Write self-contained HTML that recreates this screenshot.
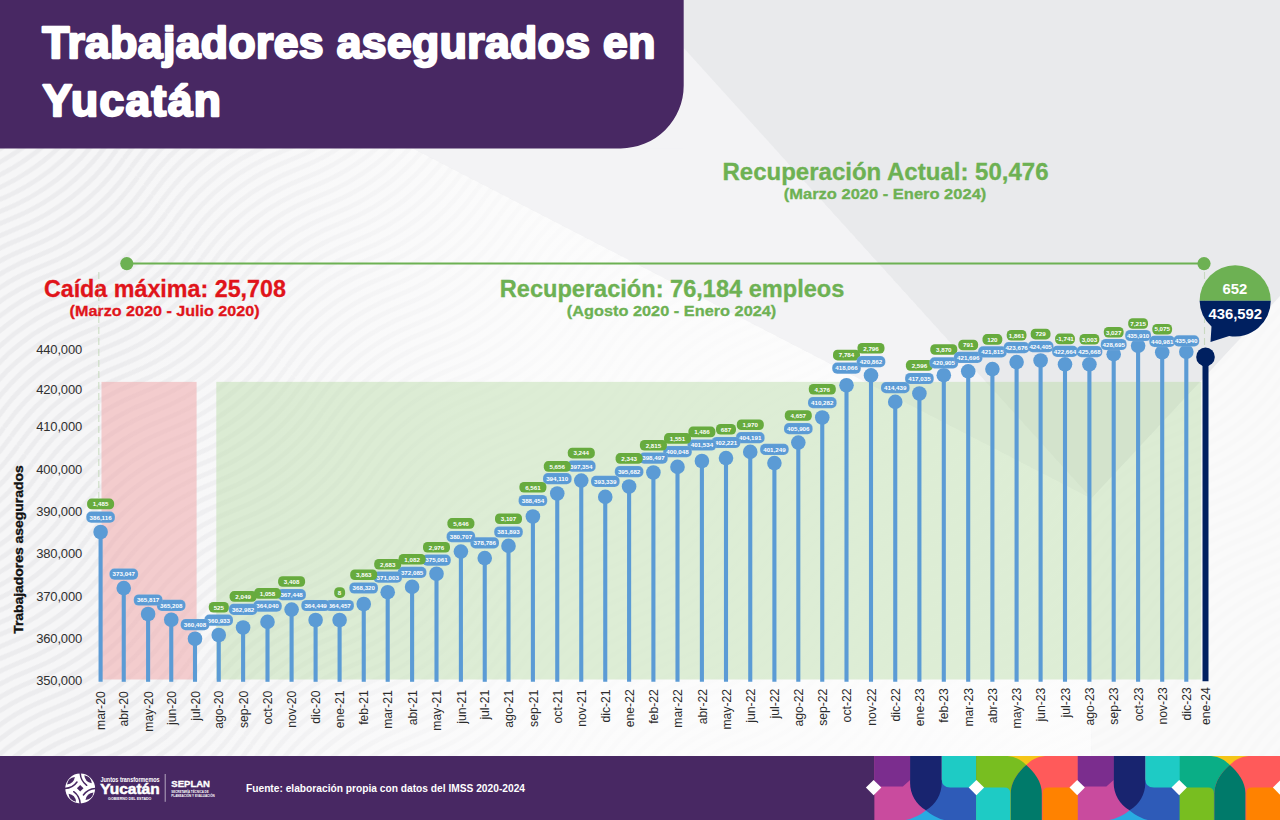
<!DOCTYPE html>
<html lang="es"><head><meta charset="utf-8"><title>Trabajadores asegurados en Yucatán</title>
<style>
html,body{margin:0;padding:0;background:#f1f1f2;}
body{width:1280px;height:820px;overflow:hidden;font-family:"Liberation Sans",sans-serif;}
svg{display:block;position:absolute;left:0;top:0;}
text{font-family:"Liberation Sans",sans-serif;}
.bl{font-size:6.2px;font-weight:700;fill:#fff;text-anchor:middle;}
.xl{font-size:12.2px;fill:#2b2b2b;text-anchor:end;}
.yl{font-size:13px;fill:#303030;text-anchor:end;letter-spacing:-0.15px;}
</style></head><body>
<svg width="1280" height="820" viewBox="0 0 1280 820">
<defs>
<pattern id="waves" width="260" height="23" patternUnits="userSpaceOnUse" patternTransform="rotate(-38)">
<path d="M0 -17.25 C 43 -30.25 87 -30.25 130 -17.25 S 217 -4.25 260 -17.25" fill="none" stroke="#ececee" stroke-width="4.6"/>
<path d="M0 -5.75 C 43 -18.75 87 -18.75 130 -5.75 S 217 7.25 260 -5.75" fill="none" stroke="#ececee" stroke-width="4.6"/>
<path d="M0 5.75 C 43 -7.25 87 -7.25 130 5.75 S 217 18.75 260 5.75" fill="none" stroke="#ececee" stroke-width="4.6"/>
<path d="M0 17.25 C 43 4.25 87 4.25 130 17.25 S 217 30.25 260 17.25" fill="none" stroke="#ececee" stroke-width="4.6"/>
<path d="M0 28.75 C 43 15.75 87 15.75 130 28.75 S 217 41.75 260 28.75" fill="none" stroke="#ececee" stroke-width="4.6"/>
<path d="M0 40.25 C 43 27.25 87 27.25 130 40.25 S 217 53.25 260 40.25" fill="none" stroke="#ececee" stroke-width="4.6"/>
</pattern>
<linearGradient id="fade" x1="0" y1="0" x2="1091.5" y2="0" gradientUnits="userSpaceOnUse">
<stop offset="0.10" stop-color="#fdfdfd" stop-opacity="0"/>
<stop offset="0.50" stop-color="#fdfdfd" stop-opacity="0.8"/>
<stop offset="1" stop-color="#fdfdfd" stop-opacity="0.92"/>
</linearGradient>
</defs>
<rect x="0" y="0" width="1280" height="820" fill="#f6f6f7"/>
<rect x="0" y="148" width="1280" height="610" fill="url(#waves)"/>
<polygon points="0,148 412,148 1091.5,498.5 1091.5,760 0,760" fill="url(#fade)"/>
<polygon points="412,148 683.7,148 683.7,48 1091.5,498.5" fill="#f2f3f5" opacity="0.96"/>
<rect x="600" y="40" width="83.7" height="108.4" fill="#f2f3f5" opacity="0.96"/>
<polygon points="683.7,0 683.7,48 1091.5,498.5 1280,296 1280,0" fill="#e9eaec"/>
<polygon points="1280,296 1091.5,498.5 1091.5,760 1280,760" fill="#fafafa" opacity="0.82"/>
<rect x="101.5" y="381.9" width="95.1" height="297.6" fill="#f0a9ab" opacity="0.55"/>
<rect x="216.3" y="381.9" width="984.9" height="297.6" fill="#b9dba6" opacity="0.45"/>
<path d="M0 0 H683.7 V85.4 A63 63 0 0 1 620.7 148.4 H0 Z" fill="#482863"/>
<g font-weight="700" fill="#fff" font-size="44.4px" stroke="#fff" stroke-width="2.4" stroke-linejoin="round">
<text x="42.3" y="58.4" textLength="613" lengthAdjust="spacing">Trabajadores asegurados en</text>
<text x="42.4" y="116.3" textLength="178.5" lengthAdjust="spacing">Yucatán</text>
</g>
<g font-weight="700" fill="#6DB153" stroke="#6DB153" stroke-width="0.3">
<text x="722.5" y="180.2" font-size="23px" textLength="326" lengthAdjust="spacingAndGlyphs">Recuperación Actual: 50,476</text>
<text x="783.8" y="199.2" font-size="15.4px" textLength="202.5" lengthAdjust="spacingAndGlyphs">(Marzo 2020 - Enero 2024)</text>
<text x="499.8" y="296.9" font-size="23px" textLength="344.5" lengthAdjust="spacingAndGlyphs">Recuperación: 76,184 empleos</text>
<text x="566.8" y="316.4" font-size="15.4px" textLength="209.5" lengthAdjust="spacingAndGlyphs">(Agosto 2020 - Enero 2024)</text>
</g>
<g font-weight="700" fill="#e0141a" stroke="#e0141a" stroke-width="0.3">
<text x="43.9" y="296.9" font-size="23px" textLength="242" lengthAdjust="spacingAndGlyphs">Caída máxima: 25,708</text>
<text x="69.6" y="316" font-size="15.4px" textLength="190" lengthAdjust="spacingAndGlyphs">(Marzo 2020 - Julio 2020)</text>
</g>
<line x1="126.8" y1="263.6" x2="1204" y2="263.6" stroke="#6DB153" stroke-width="2"/>
<circle cx="126.8" cy="263.6" r="6.6" fill="#6DB153"/>
<circle cx="1204" cy="263.6" r="6.6" fill="#6DB153"/>
<line x1="98.8" y1="272" x2="98.8" y2="498" stroke="#b4cfa6" stroke-width="1.1" stroke-dasharray="7 4" opacity="0.6"/>
<line x1="1204.5" y1="272" x2="1204.5" y2="347" stroke="#b4cfa6" stroke-width="1.1" stroke-dasharray="7 4" opacity="0.6"/>
<g class="yl">
<text x="82.1" y="354.3">440,000</text>
<text x="82.1" y="393.5">420,000</text>
<text x="82.1" y="431.4">410,000</text>
<text x="82.1" y="473.8">400,000</text>
<text x="82.1" y="516.1">390,000</text>
<text x="82.1" y="558.1">380,000</text>
<text x="82.1" y="600.5">370,000</text>
<text x="82.1" y="643.3">360,000</text>
<text x="82.1" y="685.2">350,000</text>
</g>
<text transform="translate(23.4,549.6) rotate(-90)" font-size="13px" font-weight="700" fill="#111" stroke="#111" stroke-width="0.35" text-anchor="middle" textLength="168.5" lengthAdjust="spacingAndGlyphs">Trabajadores asegurados</text>
<g stroke="#5B9BD5" stroke-width="4.1">
<line x1="100.6" y1="532.0" x2="100.6" y2="681.8"/>
<line x1="123.75" y1="588.1" x2="123.75" y2="681.8"/>
<line x1="148.1" y1="614.0" x2="148.1" y2="681.8"/>
<line x1="171.25" y1="619.75" x2="171.25" y2="681.8"/>
<line x1="195.0" y1="638.75" x2="195.0" y2="681.8"/>
<line x1="218.75" y1="635.0" x2="218.75" y2="681.8"/>
<line x1="243.1" y1="627.5" x2="243.1" y2="681.8"/>
<line x1="267.5" y1="621.9" x2="267.5" y2="681.8"/>
<line x1="291.6" y1="609.6" x2="291.6" y2="681.8"/>
<line x1="315.6" y1="620.0" x2="315.6" y2="681.8"/>
<line x1="339.6" y1="620.0" x2="339.6" y2="681.8"/>
<line x1="363.75" y1="604.0" x2="363.75" y2="681.8"/>
<line x1="387.7" y1="592.2" x2="387.7" y2="681.8"/>
<line x1="412.1" y1="586.9" x2="412.1" y2="681.8"/>
<line x1="436.5" y1="573.75" x2="436.5" y2="681.8"/>
<line x1="460.9" y1="551.6" x2="460.9" y2="681.8"/>
<line x1="484.75" y1="558.1" x2="484.75" y2="681.8"/>
<line x1="508.5" y1="545.9" x2="508.5" y2="681.8"/>
<line x1="532.9" y1="516.5" x2="532.9" y2="681.8"/>
<line x1="557.25" y1="493.5" x2="557.25" y2="681.8"/>
<line x1="581.25" y1="480.6" x2="581.25" y2="681.8"/>
<line x1="605.25" y1="496.9" x2="605.25" y2="681.8"/>
<line x1="629.1" y1="486.5" x2="629.1" y2="681.8"/>
<line x1="653.4" y1="472.5" x2="653.4" y2="681.8"/>
<line x1="677.5" y1="466.9" x2="677.5" y2="681.8"/>
<line x1="701.9" y1="461.0" x2="701.9" y2="681.8"/>
<line x1="726.0" y1="458.1" x2="726.0" y2="681.8"/>
<line x1="750.25" y1="451.9" x2="750.25" y2="681.8"/>
<line x1="774.4" y1="463.1" x2="774.4" y2="681.8"/>
<line x1="798.3" y1="442.6" x2="798.3" y2="681.8"/>
<line x1="822.25" y1="417.5" x2="822.25" y2="681.8"/>
<line x1="846.5" y1="385.25" x2="846.5" y2="681.8"/>
<line x1="871.0" y1="375.4" x2="871.0" y2="681.8"/>
<line x1="895.25" y1="401.9" x2="895.25" y2="681.8"/>
<line x1="919.4" y1="393.5" x2="919.4" y2="681.8"/>
<line x1="943.8" y1="375.2" x2="943.8" y2="681.8"/>
<line x1="968.2" y1="371.3" x2="968.2" y2="681.8"/>
<line x1="992.4" y1="369.1" x2="992.4" y2="681.8"/>
<line x1="1016.6" y1="362.1" x2="1016.6" y2="681.8"/>
<line x1="1040.6" y1="360.5" x2="1040.6" y2="681.8"/>
<line x1="1065.0" y1="364.3" x2="1065.0" y2="681.8"/>
<line x1="1089.4" y1="364.3" x2="1089.4" y2="681.8"/>
<line x1="1113.7" y1="354.2" x2="1113.7" y2="681.8"/>
<line x1="1138.1" y1="345.8" x2="1138.1" y2="681.8"/>
<line x1="1162.2" y1="352.3" x2="1162.2" y2="681.8"/>
<line x1="1186.3" y1="351.8" x2="1186.3" y2="681.8"/>
</g>
<line x1="1205.5" y1="356.9" x2="1205.5" y2="681.2" stroke="#002060" stroke-width="6"/>
<g fill="#5B9BD5">
<circle cx="100.6" cy="532.0" r="7.3"/>
<circle cx="123.75" cy="588.1" r="7.3"/>
<circle cx="148.1" cy="614.0" r="7.3"/>
<circle cx="171.25" cy="619.75" r="7.3"/>
<circle cx="195.0" cy="638.75" r="7.3"/>
<circle cx="218.75" cy="635.0" r="7.3"/>
<circle cx="243.1" cy="627.5" r="7.3"/>
<circle cx="267.5" cy="621.9" r="7.3"/>
<circle cx="291.6" cy="609.6" r="7.3"/>
<circle cx="315.6" cy="620.0" r="7.3"/>
<circle cx="339.6" cy="620.0" r="7.3"/>
<circle cx="363.75" cy="604.0" r="7.3"/>
<circle cx="387.7" cy="592.2" r="7.3"/>
<circle cx="412.1" cy="586.9" r="7.3"/>
<circle cx="436.5" cy="573.75" r="7.3"/>
<circle cx="460.9" cy="551.6" r="7.3"/>
<circle cx="484.75" cy="558.1" r="7.3"/>
<circle cx="508.5" cy="545.9" r="7.3"/>
<circle cx="532.9" cy="516.5" r="7.3"/>
<circle cx="557.25" cy="493.5" r="7.3"/>
<circle cx="581.25" cy="480.6" r="7.3"/>
<circle cx="605.25" cy="496.9" r="7.3"/>
<circle cx="629.1" cy="486.5" r="7.3"/>
<circle cx="653.4" cy="472.5" r="7.3"/>
<circle cx="677.5" cy="466.9" r="7.3"/>
<circle cx="701.9" cy="461.0" r="7.3"/>
<circle cx="726.0" cy="458.1" r="7.3"/>
<circle cx="750.25" cy="451.9" r="7.3"/>
<circle cx="774.4" cy="463.1" r="7.3"/>
<circle cx="798.3" cy="442.6" r="7.3"/>
<circle cx="822.25" cy="417.5" r="7.3"/>
<circle cx="846.5" cy="385.25" r="7.3"/>
<circle cx="871.0" cy="375.4" r="7.3"/>
<circle cx="895.25" cy="401.9" r="7.3"/>
<circle cx="919.4" cy="393.5" r="7.3"/>
<circle cx="943.8" cy="375.2" r="7.3"/>
<circle cx="968.2" cy="371.3" r="7.3"/>
<circle cx="992.4" cy="369.1" r="7.3"/>
<circle cx="1016.6" cy="362.1" r="7.3"/>
<circle cx="1040.6" cy="360.5" r="7.3"/>
<circle cx="1065.0" cy="364.3" r="7.3"/>
<circle cx="1089.4" cy="364.3" r="7.3"/>
<circle cx="1113.7" cy="354.2" r="7.3"/>
<circle cx="1138.1" cy="345.8" r="7.3"/>
<circle cx="1162.2" cy="352.3" r="7.3"/>
<circle cx="1186.3" cy="351.8" r="7.3"/>
</g>
<circle cx="1205.5" cy="356.9" r="9.3" fill="#002060"/>
<rect x="832.2" y="362.5" width="28.6" height="11.2" rx="4.9" fill="#5B9BD5" stroke="#c4dbf1" stroke-width="0.5" stroke-opacity="0.28"/>
<text class="bl" x="846.5" y="370.4">418,066</text>
<rect x="833.0" y="349.8" width="27.0" height="10.6" rx="4.5" fill="#67AB3E"/>
<text class="bl" x="846.5" y="357.4">7,784</text>
<rect x="856.7" y="356.0" width="28.6" height="11.2" rx="4.9" fill="#5B9BD5" stroke="#c4dbf1" stroke-width="0.5" stroke-opacity="0.28"/>
<text class="bl" x="871.0" y="363.9">420,862</text>
<rect x="857.5" y="343.0" width="27.0" height="10.6" rx="4.5" fill="#67AB3E"/>
<text class="bl" x="871.0" y="350.6">2,796</text>
<rect x="881.0" y="382.1" width="28.6" height="11.2" rx="4.9" fill="#5B9BD5" stroke="#c4dbf1" stroke-width="0.5" stroke-opacity="0.28"/>
<text class="bl" x="895.2" y="389.9">414,439</text>
<rect x="905.1" y="372.9" width="28.6" height="11.2" rx="4.9" fill="#5B9BD5" stroke="#c4dbf1" stroke-width="0.5" stroke-opacity="0.28"/>
<text class="bl" x="919.4" y="380.8">417,035</text>
<rect x="905.9" y="360.1" width="27.0" height="10.6" rx="4.5" fill="#67AB3E"/>
<text class="bl" x="919.4" y="367.6">2,596</text>
<rect x="929.5" y="357.2" width="28.6" height="11.2" rx="4.9" fill="#5B9BD5" stroke="#c4dbf1" stroke-width="0.5" stroke-opacity="0.28"/>
<text class="bl" x="943.8" y="365.1">420,905</text>
<rect x="930.3" y="344.2" width="27.0" height="10.6" rx="4.5" fill="#67AB3E"/>
<text class="bl" x="943.8" y="351.8">3,870</text>
<rect x="953.9" y="351.8" width="28.6" height="11.2" rx="4.9" fill="#5B9BD5" stroke="#c4dbf1" stroke-width="0.5" stroke-opacity="0.28"/>
<text class="bl" x="968.2" y="359.7">421,696</text>
<rect x="958.3" y="339.7" width="19.8" height="10.6" rx="4.5" fill="#67AB3E"/>
<text class="bl" x="968.2" y="347.3">791</text>
<rect x="978.1" y="346.2" width="28.6" height="11.2" rx="4.9" fill="#5B9BD5" stroke="#c4dbf1" stroke-width="0.5" stroke-opacity="0.28"/>
<text class="bl" x="992.4" y="354.1">421,815</text>
<rect x="982.5" y="334.1" width="19.8" height="10.6" rx="4.5" fill="#67AB3E"/>
<text class="bl" x="992.4" y="341.7">120</text>
<rect x="1003.7" y="342.1" width="25.8" height="11.2" rx="4.9" fill="#5B9BD5" stroke="#c4dbf1" stroke-width="0.5" stroke-opacity="0.28"/>
<text class="bl" x="1016.6" y="350.0">423,676</text>
<rect x="1006.7" y="329.9" width="19.8" height="10.6" rx="4.5" fill="#67AB3E"/>
<text class="bl" x="1016.6" y="337.5">1,861</text>
<rect x="1027.7" y="341.0" width="25.8" height="11.2" rx="4.9" fill="#5B9BD5" stroke="#c4dbf1" stroke-width="0.5" stroke-opacity="0.28"/>
<text class="bl" x="1040.6" y="348.9">424,405</text>
<rect x="1030.7" y="328.8" width="19.8" height="10.6" rx="4.5" fill="#67AB3E"/>
<text class="bl" x="1040.6" y="336.4">729</text>
<rect x="1052.1" y="345.7" width="25.8" height="11.2" rx="4.9" fill="#5B9BD5" stroke="#c4dbf1" stroke-width="0.5" stroke-opacity="0.28"/>
<text class="bl" x="1065.0" y="353.6">422,664</text>
<rect x="1055.1" y="333.6" width="19.8" height="10.6" rx="4.5" fill="#67AB3E"/>
<text class="bl" x="1065.0" y="341.2">-1,741</text>
<rect x="1076.5" y="346.0" width="25.8" height="11.2" rx="4.9" fill="#5B9BD5" stroke="#c4dbf1" stroke-width="0.5" stroke-opacity="0.28"/>
<text class="bl" x="1089.4" y="353.9">425,668</text>
<rect x="1079.5" y="334.0" width="19.8" height="10.6" rx="4.5" fill="#67AB3E"/>
<text class="bl" x="1089.4" y="341.6">3,003</text>
<rect x="1100.8" y="338.9" width="25.8" height="11.2" rx="4.9" fill="#5B9BD5" stroke="#c4dbf1" stroke-width="0.5" stroke-opacity="0.28"/>
<text class="bl" x="1113.7" y="346.8">428,695</text>
<rect x="1103.8" y="327.0" width="19.8" height="10.6" rx="4.5" fill="#67AB3E"/>
<text class="bl" x="1113.7" y="334.6">3,027</text>
<rect x="1125.2" y="329.9" width="25.8" height="11.2" rx="4.9" fill="#5B9BD5" stroke="#c4dbf1" stroke-width="0.5" stroke-opacity="0.28"/>
<text class="bl" x="1138.1" y="337.8">435,910</text>
<rect x="1128.2" y="318.2" width="19.8" height="10.6" rx="4.5" fill="#67AB3E"/>
<text class="bl" x="1138.1" y="325.8">7,215</text>
<rect x="1149.3" y="335.7" width="25.8" height="11.2" rx="4.9" fill="#5B9BD5" stroke="#c4dbf1" stroke-width="0.5" stroke-opacity="0.28"/>
<text class="bl" x="1162.2" y="343.6">440,981</text>
<rect x="1152.3" y="323.9" width="19.8" height="10.6" rx="4.5" fill="#67AB3E"/>
<text class="bl" x="1162.2" y="331.4">5,075</text>
<rect x="1173.4" y="335.3" width="25.8" height="11.2" rx="4.9" fill="#5B9BD5" stroke="#c4dbf1" stroke-width="0.5" stroke-opacity="0.28"/>
<text class="bl" x="1186.3" y="343.2">435,940</text>
<rect x="808.0" y="397.0" width="28.6" height="11.2" rx="4.9" fill="#5B9BD5" stroke="#c4dbf1" stroke-width="0.5" stroke-opacity="0.28"/>
<text class="bl" x="822.2" y="404.9">410,282</text>
<rect x="808.8" y="384.0" width="27.0" height="10.6" rx="4.5" fill="#67AB3E"/>
<text class="bl" x="822.2" y="391.6">4,376</text>
<rect x="784.0" y="423.1" width="28.6" height="11.2" rx="4.9" fill="#5B9BD5" stroke="#c4dbf1" stroke-width="0.5" stroke-opacity="0.28"/>
<text class="bl" x="798.3" y="430.9">405,906</text>
<rect x="784.8" y="410.2" width="27.0" height="10.6" rx="4.5" fill="#67AB3E"/>
<text class="bl" x="798.3" y="417.7">4,657</text>
<rect x="760.1" y="443.8" width="28.6" height="11.2" rx="4.9" fill="#5B9BD5" stroke="#c4dbf1" stroke-width="0.5" stroke-opacity="0.28"/>
<text class="bl" x="774.4" y="451.7">401,249</text>
<rect x="736.0" y="432.1" width="28.6" height="11.2" rx="4.9" fill="#5B9BD5" stroke="#c4dbf1" stroke-width="0.5" stroke-opacity="0.28"/>
<text class="bl" x="750.2" y="440.0">404,191</text>
<rect x="736.8" y="419.4" width="27.0" height="10.6" rx="4.5" fill="#67AB3E"/>
<text class="bl" x="750.2" y="426.9">1,970</text>
<rect x="711.7" y="436.9" width="28.6" height="11.2" rx="4.9" fill="#5B9BD5" stroke="#c4dbf1" stroke-width="0.5" stroke-opacity="0.28"/>
<text class="bl" x="726.0" y="444.8">402,221</text>
<rect x="716.0" y="424.0" width="20.0" height="10.6" rx="4.5" fill="#67AB3E"/>
<text class="bl" x="726.0" y="431.6">687</text>
<rect x="687.6" y="439.4" width="28.6" height="11.2" rx="4.9" fill="#5B9BD5" stroke="#c4dbf1" stroke-width="0.5" stroke-opacity="0.28"/>
<text class="bl" x="701.9" y="447.2">401,534</text>
<rect x="688.4" y="426.6" width="27.0" height="10.6" rx="4.5" fill="#67AB3E"/>
<text class="bl" x="701.9" y="434.1">1,486</text>
<rect x="663.2" y="446.0" width="28.6" height="11.2" rx="4.9" fill="#5B9BD5" stroke="#c4dbf1" stroke-width="0.5" stroke-opacity="0.28"/>
<text class="bl" x="677.5" y="453.8">400,048</text>
<rect x="664.0" y="433.1" width="27.0" height="10.6" rx="4.5" fill="#67AB3E"/>
<text class="bl" x="677.5" y="440.6">1,551</text>
<rect x="639.1" y="452.5" width="28.6" height="11.2" rx="4.9" fill="#5B9BD5" stroke="#c4dbf1" stroke-width="0.5" stroke-opacity="0.28"/>
<text class="bl" x="653.4" y="460.4">398,497</text>
<rect x="639.9" y="440.0" width="27.0" height="10.6" rx="4.5" fill="#67AB3E"/>
<text class="bl" x="653.4" y="447.6">2,815</text>
<rect x="614.8" y="466.0" width="28.6" height="11.2" rx="4.9" fill="#5B9BD5" stroke="#c4dbf1" stroke-width="0.5" stroke-opacity="0.28"/>
<text class="bl" x="629.1" y="473.9">395,682</text>
<rect x="615.6" y="453.1" width="27.0" height="10.6" rx="4.5" fill="#67AB3E"/>
<text class="bl" x="629.1" y="460.7">2,343</text>
<rect x="591.0" y="475.7" width="28.6" height="11.2" rx="4.9" fill="#5B9BD5" stroke="#c4dbf1" stroke-width="0.5" stroke-opacity="0.28"/>
<text class="bl" x="605.2" y="483.5">393,339</text>
<rect x="567.0" y="460.6" width="28.6" height="11.2" rx="4.9" fill="#5B9BD5" stroke="#c4dbf1" stroke-width="0.5" stroke-opacity="0.28"/>
<text class="bl" x="581.2" y="468.5">397,354</text>
<rect x="567.8" y="447.8" width="27.0" height="10.6" rx="4.5" fill="#67AB3E"/>
<text class="bl" x="581.2" y="455.4">3,244</text>
<rect x="543.0" y="473.1" width="28.6" height="11.2" rx="4.9" fill="#5B9BD5" stroke="#c4dbf1" stroke-width="0.5" stroke-opacity="0.28"/>
<text class="bl" x="557.2" y="481.0">394,110</text>
<rect x="543.8" y="461.1" width="27.0" height="10.6" rx="4.5" fill="#67AB3E"/>
<text class="bl" x="557.2" y="468.6">5,656</text>
<rect x="518.6" y="494.9" width="28.6" height="11.2" rx="4.9" fill="#5B9BD5" stroke="#c4dbf1" stroke-width="0.5" stroke-opacity="0.28"/>
<text class="bl" x="532.9" y="502.8">388,454</text>
<rect x="519.4" y="482.0" width="27.0" height="10.6" rx="4.5" fill="#67AB3E"/>
<text class="bl" x="532.9" y="489.6">6,561</text>
<rect x="494.2" y="526.4" width="28.6" height="11.2" rx="4.9" fill="#5B9BD5" stroke="#c4dbf1" stroke-width="0.5" stroke-opacity="0.28"/>
<text class="bl" x="508.5" y="534.2">381,893</text>
<rect x="495.0" y="513.5" width="27.0" height="10.6" rx="4.5" fill="#67AB3E"/>
<text class="bl" x="508.5" y="521.0">3,107</text>
<rect x="470.4" y="537.2" width="28.6" height="11.2" rx="4.9" fill="#5B9BD5" stroke="#c4dbf1" stroke-width="0.5" stroke-opacity="0.28"/>
<text class="bl" x="484.8" y="545.1">378,786</text>
<rect x="446.6" y="531.0" width="28.6" height="11.2" rx="4.9" fill="#5B9BD5" stroke="#c4dbf1" stroke-width="0.5" stroke-opacity="0.28"/>
<text class="bl" x="460.9" y="538.9">380,707</text>
<rect x="447.4" y="518.1" width="27.0" height="10.6" rx="4.5" fill="#67AB3E"/>
<text class="bl" x="460.9" y="525.6">5,646</text>
<rect x="422.2" y="554.5" width="28.6" height="11.2" rx="4.9" fill="#5B9BD5" stroke="#c4dbf1" stroke-width="0.5" stroke-opacity="0.28"/>
<text class="bl" x="436.5" y="562.4">375,061</text>
<rect x="423.0" y="542.0" width="27.0" height="10.6" rx="4.5" fill="#67AB3E"/>
<text class="bl" x="436.5" y="549.5">2,976</text>
<rect x="397.8" y="566.7" width="28.6" height="11.2" rx="4.9" fill="#5B9BD5" stroke="#c4dbf1" stroke-width="0.5" stroke-opacity="0.28"/>
<text class="bl" x="412.1" y="574.5">372,085</text>
<rect x="398.6" y="554.0" width="27.0" height="10.6" rx="4.5" fill="#67AB3E"/>
<text class="bl" x="412.1" y="561.5">1,082</text>
<rect x="373.4" y="571.6" width="28.6" height="11.2" rx="4.9" fill="#5B9BD5" stroke="#c4dbf1" stroke-width="0.5" stroke-opacity="0.28"/>
<text class="bl" x="387.7" y="579.5">371,003</text>
<rect x="374.2" y="559.0" width="27.0" height="10.6" rx="4.5" fill="#67AB3E"/>
<text class="bl" x="387.7" y="566.6">2,683</text>
<rect x="349.4" y="582.4" width="28.6" height="11.2" rx="4.9" fill="#5B9BD5" stroke="#c4dbf1" stroke-width="0.5" stroke-opacity="0.28"/>
<text class="bl" x="363.8" y="590.2">368,320</text>
<rect x="350.2" y="569.4" width="27.0" height="10.6" rx="4.5" fill="#67AB3E"/>
<text class="bl" x="363.8" y="577.0">3,863</text>
<rect x="325.3" y="599.9" width="28.6" height="11.2" rx="4.9" fill="#5B9BD5" stroke="#c4dbf1" stroke-width="0.5" stroke-opacity="0.28"/>
<text class="bl" x="339.6" y="607.8">364,457</text>
<rect x="334.2" y="587.3" width="10.9" height="10.6" rx="4.5" fill="#67AB3E"/>
<text class="bl" x="339.6" y="594.9">8</text>
<rect x="301.3" y="599.9" width="28.6" height="11.2" rx="4.9" fill="#5B9BD5" stroke="#c4dbf1" stroke-width="0.5" stroke-opacity="0.28"/>
<text class="bl" x="315.6" y="607.8">364,449</text>
<rect x="277.3" y="589.1" width="28.6" height="11.2" rx="4.9" fill="#5B9BD5" stroke="#c4dbf1" stroke-width="0.5" stroke-opacity="0.28"/>
<text class="bl" x="291.6" y="597.0">367,448</text>
<rect x="278.1" y="576.2" width="27.0" height="10.6" rx="4.5" fill="#67AB3E"/>
<text class="bl" x="291.6" y="583.8">3,408</text>
<rect x="253.2" y="600.5" width="28.6" height="11.2" rx="4.9" fill="#5B9BD5" stroke="#c4dbf1" stroke-width="0.5" stroke-opacity="0.28"/>
<text class="bl" x="267.5" y="608.4">364,040</text>
<rect x="254.0" y="588.1" width="27.0" height="10.6" rx="4.5" fill="#67AB3E"/>
<text class="bl" x="267.5" y="595.6">1,058</text>
<rect x="228.8" y="603.8" width="28.6" height="11.2" rx="4.9" fill="#5B9BD5" stroke="#c4dbf1" stroke-width="0.5" stroke-opacity="0.28"/>
<text class="bl" x="243.1" y="611.6">362,982</text>
<rect x="229.6" y="591.1" width="27.0" height="10.6" rx="4.5" fill="#67AB3E"/>
<text class="bl" x="243.1" y="598.6">2,049</text>
<rect x="204.4" y="614.6" width="28.6" height="11.2" rx="4.9" fill="#5B9BD5" stroke="#c4dbf1" stroke-width="0.5" stroke-opacity="0.28"/>
<text class="bl" x="218.8" y="622.5">360,933</text>
<rect x="208.8" y="602.0" width="20.0" height="10.6" rx="4.5" fill="#67AB3E"/>
<text class="bl" x="218.8" y="609.5">525</text>
<rect x="180.7" y="619.0" width="28.6" height="11.2" rx="4.9" fill="#5B9BD5" stroke="#c4dbf1" stroke-width="0.5" stroke-opacity="0.28"/>
<text class="bl" x="195.0" y="626.9">360,408</text>
<rect x="156.9" y="599.8" width="28.6" height="11.2" rx="4.9" fill="#5B9BD5" stroke="#c4dbf1" stroke-width="0.5" stroke-opacity="0.28"/>
<text class="bl" x="171.2" y="607.6">365,208</text>
<rect x="133.8" y="594.4" width="28.6" height="11.2" rx="4.9" fill="#5B9BD5" stroke="#c4dbf1" stroke-width="0.5" stroke-opacity="0.28"/>
<text class="bl" x="148.1" y="602.2">365,817</text>
<rect x="109.5" y="568.5" width="28.6" height="11.2" rx="4.9" fill="#5B9BD5" stroke="#c4dbf1" stroke-width="0.5" stroke-opacity="0.28"/>
<text class="bl" x="123.8" y="576.4">373,047</text>
<rect x="86.3" y="511.6" width="28.6" height="11.2" rx="4.9" fill="#5B9BD5" stroke="#c4dbf1" stroke-width="0.5" stroke-opacity="0.28"/>
<text class="bl" x="100.6" y="519.5">386,116</text>
<rect x="87.1" y="498.6" width="27.0" height="10.6" rx="4.5" fill="#67AB3E"/>
<text class="bl" x="100.6" y="506.2">1,485</text>
<path d="M1199.6000000000001 300.8 A35.6 35.6 0 0 1 1270.8 300.8 Z" fill="#6DB153"/>
<path d="M1199.6000000000001 300.8 H1270.8 A35.6 35.6 0 0 1 1229.2 335.90000000000003 L1210.5 342 L1211.5 326.5 A35.6 35.6 0 0 1 1199.6000000000001 300.8 Z" fill="#002060"/>
<text x="1234.9" y="294.2" font-size="14.8px" font-weight="700" fill="#fff" text-anchor="middle">652</text>
<text x="1235.2" y="318.9" font-size="14.8px" font-weight="700" fill="#fff" text-anchor="middle">436,592</text>
<g class="xl">
<text transform="translate(105.2,691.3) rotate(-90)">mar-20</text>
<text transform="translate(128.3,691.2) rotate(-90)">abr-20</text>
<text transform="translate(152.7,691.1) rotate(-90)">may-20</text>
<text transform="translate(175.8,691.0) rotate(-90)">jun-20</text>
<text transform="translate(199.6,690.9) rotate(-90)">jul-20</text>
<text transform="translate(223.3,690.8) rotate(-90)">ago-20</text>
<text transform="translate(247.7,690.8) rotate(-90)">sep-20</text>
<text transform="translate(272.1,690.7) rotate(-90)">oct-20</text>
<text transform="translate(296.2,690.6) rotate(-90)">nov-20</text>
<text transform="translate(320.2,690.5) rotate(-90)">dic-20</text>
<text transform="translate(344.2,690.4) rotate(-90)">ene-21</text>
<text transform="translate(368.4,690.3) rotate(-90)">feb-21</text>
<text transform="translate(392.3,690.2) rotate(-90)">mar-21</text>
<text transform="translate(416.7,690.1) rotate(-90)">abr-21</text>
<text transform="translate(441.1,690.0) rotate(-90)">may-21</text>
<text transform="translate(465.5,689.9) rotate(-90)">jun-21</text>
<text transform="translate(489.4,689.8) rotate(-90)">jul-21</text>
<text transform="translate(513.1,689.7) rotate(-90)">ago-21</text>
<text transform="translate(537.5,689.7) rotate(-90)">sep-21</text>
<text transform="translate(561.9,689.6) rotate(-90)">oct-21</text>
<text transform="translate(585.9,689.5) rotate(-90)">nov-21</text>
<text transform="translate(609.9,689.4) rotate(-90)">dic-21</text>
<text transform="translate(633.7,689.3) rotate(-90)">ene-22</text>
<text transform="translate(658.0,689.2) rotate(-90)">feb-22</text>
<text transform="translate(682.1,689.1) rotate(-90)">mar-22</text>
<text transform="translate(706.5,689.0) rotate(-90)">abr-22</text>
<text transform="translate(730.6,688.9) rotate(-90)">may-22</text>
<text transform="translate(754.9,688.8) rotate(-90)">jun-22</text>
<text transform="translate(779.0,688.7) rotate(-90)">jul-22</text>
<text transform="translate(802.9,688.6) rotate(-90)">ago-22</text>
<text transform="translate(826.9,688.6) rotate(-90)">sep-22</text>
<text transform="translate(851.1,688.5) rotate(-90)">oct-22</text>
<text transform="translate(875.6,688.4) rotate(-90)">nov-22</text>
<text transform="translate(899.9,688.3) rotate(-90)">dic-22</text>
<text transform="translate(924.0,688.2) rotate(-90)">ene-23</text>
<text transform="translate(948.4,688.1) rotate(-90)">feb-23</text>
<text transform="translate(972.8,688.0) rotate(-90)">mar-23</text>
<text transform="translate(997.0,687.9) rotate(-90)">abr-23</text>
<text transform="translate(1021.2,687.8) rotate(-90)">may-23</text>
<text transform="translate(1045.2,687.7) rotate(-90)">jun-23</text>
<text transform="translate(1069.6,687.6) rotate(-90)">jul-23</text>
<text transform="translate(1094.0,687.5) rotate(-90)">ago-23</text>
<text transform="translate(1118.3,687.4) rotate(-90)">sep-23</text>
<text transform="translate(1142.7,687.4) rotate(-90)">oct-23</text>
<text transform="translate(1166.8,687.3) rotate(-90)">nov-23</text>
<text transform="translate(1190.9,687.2) rotate(-90)">dic-23</text>
<text transform="translate(1210.1,687.1) rotate(-90)">ene-24</text>
</g>
<rect x="0" y="756" width="1280" height="64" fill="#482863"/>
<g transform="translate(80.2,788.5)">
<circle cx="0" cy="0" r="14.9" fill="#fff"/>
<g transform="rotate(0)">
<path d="M0 -15.2 Q0.5 -7.5 6.5 -3.2" fill="none" stroke="#482863" stroke-width="1.5" stroke-linecap="round"/>
<path d="M4.1 -13.3 Q10.9 -12.2 11.6 -5.3 Q4.8 -6.4 4.1 -13.3 Z" fill="#482863"/>
</g>
<g transform="rotate(90)">
<path d="M0 -15.2 Q0.5 -7.5 6.5 -3.2" fill="none" stroke="#482863" stroke-width="1.5" stroke-linecap="round"/>
<path d="M4.1 -13.3 Q10.9 -12.2 11.6 -5.3 Q4.8 -6.4 4.1 -13.3 Z" fill="#482863"/>
</g>
<g transform="rotate(180)">
<path d="M0 -15.2 Q0.5 -7.5 6.5 -3.2" fill="none" stroke="#482863" stroke-width="1.5" stroke-linecap="round"/>
<path d="M4.1 -13.3 Q10.9 -12.2 11.6 -5.3 Q4.8 -6.4 4.1 -13.3 Z" fill="#482863"/>
</g>
<g transform="rotate(270)">
<path d="M0 -15.2 Q0.5 -7.5 6.5 -3.2" fill="none" stroke="#482863" stroke-width="1.5" stroke-linecap="round"/>
<path d="M4.1 -13.3 Q10.9 -12.2 11.6 -5.3 Q4.8 -6.4 4.1 -13.3 Z" fill="#482863"/>
</g>
<path d="M0 -3.6 L3.3 -0.3 L0 3 L-3.3 -0.3 Z" fill="#482863"/>
</g>
<g fill="#fff" font-weight="700">
<text x="100.5" y="781.7" font-size="6.3px" textLength="59.1" lengthAdjust="spacingAndGlyphs">Juntos transformemos</text>
<text x="100.3" y="793.5" font-size="14.4px" textLength="59.4" lengthAdjust="spacingAndGlyphs" stroke="#fff" stroke-width="0.5">Yucatán</text>
<text x="108.1" y="800" font-size="3.4px" textLength="43.3" lengthAdjust="spacingAndGlyphs">GOBIERNO DEL ESTADO</text>
<text x="171.3" y="786.8" font-size="9.5px" textLength="38.7" lengthAdjust="spacingAndGlyphs" stroke="#fff" stroke-width="0.35">SEPLAN</text>
<text x="171.3" y="792.8" font-size="2.7px" textLength="37.4" lengthAdjust="spacingAndGlyphs">SECRETARÍA TÉCNICA DE</text>
<text x="171.3" y="796.8" font-size="2.7px" textLength="43.4" lengthAdjust="spacingAndGlyphs">PLANEACIÓN Y EVALUACIÓN</text>
<text x="246" y="792.2" font-size="10.4px" textLength="279" lengthAdjust="spacingAndGlyphs">Fuente: elaboración propia con datos del IMSS 2020-2024</text>
</g>
<line x1="165.2" y1="774" x2="165.2" y2="801.8" stroke="#fff" stroke-width="0.6"/>
<clipPath id="fclip"><rect x="874.2" y="756" width="405.8" height="64"/></clipPath>
<g clip-path="url(#fclip)">
<g transform="translate(874.2,0)">
<rect x="0" y="756" width="75" height="64" fill="#c94b9e"/>
<path d="M0 756 H35.9 V780.1 L28.6 786.4 H0 Z" fill="#7b2d8e"/>
<rect x="51.5" y="780" width="50.7" height="40" fill="#2e5bb8"/>
<path d="M35.9 756 H67.5 V782.9 A31.4 31.4 0 0 1 51.7 810.2 A31.4 31.4 0 0 1 35.9 782.9 Z" fill="#18246f"/>
<path d="M51.7 810.4 Q60.5 817.5 70 820 H31.3 Q43 817.5 51.7 810.4 Z" fill="#29abe2"/>
<path d="M67.5 756 H102.2 V787.6 H76 Q67.5 787.6 67.5 779 Z" fill="#1ecbc5"/>
<rect x="130" y="756" width="45" height="12" fill="#f5c518"/>
<path d="M101.9 756 H133.3 C143 757 148 761 152.05 765.1 C160 772 167.6 782 167.6 793.25 V820 H101.9 Z" fill="#78be20"/>
<path d="M203.8 756 H170.8 C161 757 156 761 152.05 765.1 C144 772 136.6 782 136.6 793.25 V820 H203.8 Z" fill="#ff5a5a"/>
<path d="M136.6 820 V793.25 C136.6 782 144 772 152.05 765.1 C160 772 167.6 782 167.6 793.25 V820 Z" fill="#007a6a"/>
<path d="M101.9 787.6 H130.3 Q136.1 787.6 136.1 793.4 V820 H101.9 Z" fill="#1ecbc5"/>
<path d="M168.5 820 V793.4 Q168.5 787.6 174.3 787.6 H203.8 V820 Z" fill="#ff8200"/>
</g>
<g transform="translate(1077.8,0)">
<rect x="0" y="756" width="75" height="64" fill="#c94b9e"/>
<path d="M0 756 H35.9 V780.1 L28.6 786.4 H0 Z" fill="#7b2d8e"/>
<rect x="51.5" y="780" width="50.7" height="40" fill="#2e5bb8"/>
<path d="M35.9 756 H67.5 V782.9 A31.4 31.4 0 0 1 51.7 810.2 A31.4 31.4 0 0 1 35.9 782.9 Z" fill="#18246f"/>
<path d="M51.7 810.4 Q60.5 817.5 70 820 H31.3 Q43 817.5 51.7 810.4 Z" fill="#29abe2"/>
<path d="M67.5 756 H102.2 V787.6 H76 Q67.5 787.6 67.5 779 Z" fill="#1ecbc5"/>
<rect x="130" y="756" width="45" height="12" fill="#f5c518"/>
<path d="M101.9 756 H133.3 C143 757 148 761 152.05 765.1 C160 772 167.6 782 167.6 793.25 V820 H101.9 Z" fill="#0aae86"/>
<path d="M203.8 756 H170.8 C161 757 156 761 152.05 765.1 C144 772 136.6 782 136.6 793.25 V820 H203.8 Z" fill="#ff5a5a"/>
<path d="M136.6 820 V793.25 C136.6 782 144 772 152.05 765.1 C160 772 167.6 782 167.6 793.25 V820 Z" fill="#007a6a"/>
<path d="M101.9 787.6 H130.3 Q136.1 787.6 136.1 793.4 V820 H101.9 Z" fill="#78be20"/>
<path d="M168.5 820 V793.4 Q168.5 787.6 174.3 787.6 H203.8 V820 Z" fill="#ff8200"/>
</g>
</g>
<path d="M873.6 779.9 L881.3000000000001 787.6 L873.6 795.3 L865.9 787.6 Z" fill="#fff"/>
<path d="M976.4 779.9 L984.1 787.6 L976.4 795.3 L968.6999999999999 787.6 Z" fill="#fff"/>
<path d="M1077.2 779.9 L1084.9 787.6 L1077.2 795.3 L1069.5 787.6 Z" fill="#fff"/>
<path d="M1179.2 779.9 L1186.9 787.6 L1179.2 795.3 L1171.5 787.6 Z" fill="#fff"/>
<path d="M1280.6 779.9 L1288.3 787.6 L1280.6 795.3 L1272.8999999999999 787.6 Z" fill="#fff"/>
</svg>
</body></html>
